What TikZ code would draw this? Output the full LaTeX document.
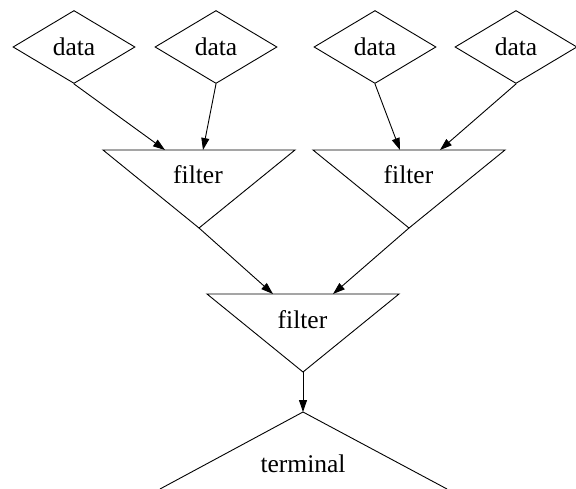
\documentclass[tikz,border=0pt]{standalone}
\usepackage{fontspec}
\setmainfont{Liberation Serif}
\usetikzlibrary{shapes.geometric,arrows.meta}
\begin{document}
\begin{tikzpicture}[x=1pt,y=-1pt,line width=0.9pt,
  datanode/.style={diamond,draw,minimum width=122pt,minimum height=73pt,inner sep=0pt,font=\fontsize{25.5}{30}\selectfont},
  lbl/.style={font=\fontsize{25.5}{30}\selectfont,inner sep=0pt},
  flow/.style={-{Triangle[length=12pt,width=8pt]}}]
\useasboundingbox (0,0) rectangle (576,489);
% data diamonds
\node[datanode] (d1) at (74,47) {data};
\node[datanode] (d2) at (216,47) {data};
\node[datanode] (d3) at (375,47) {data};
\node[datanode] (d4) at (516,47) {data};
% filter triangles
\draw (103,150) -- (295,150) -- (199,228) -- cycle;
\draw (313,150) -- (505,150) -- (409,228) -- cycle;
\draw (207,294) -- (399,294) -- (303,372) -- cycle;
\node[lbl] (f1) at (198,175) {filter};
\node[lbl] (f2) at (408.5,175) {filter};
\node[lbl] (f3) at (302.5,320) {filter};
% terminal
\draw (160,489) -- (303,412) -- (447,489);
\node[lbl] (t) at (303,463.5) {terminal};
% connection points
\coordinate (f1a) at (199,228);
\coordinate (f2a) at (409,228);
\coordinate (f3a) at (303,372);
\coordinate (ta) at (303,412);
\coordinate (f1i1) at (165,150);
\coordinate (f1i2) at (203,150);
\coordinate (f2i1) at (400,150);
\coordinate (f2i2) at (440,150);
\coordinate (f3i1) at (273,294);
\coordinate (f3i2) at (333,294);
% edges
\draw[flow] (d1.south) -- (f1i1);
\draw[flow] (d2.south) -- (f1i2);
\draw[flow] (d3.south) -- (f2i1);
\draw[flow] (d4.south) -- (f2i2);
\draw[flow] (f1a) -- (f3i1);
\draw[flow] (f2a) -- (f3i2);
\draw[flow] (f3a) -- (ta);
\end{tikzpicture}
\end{document}
